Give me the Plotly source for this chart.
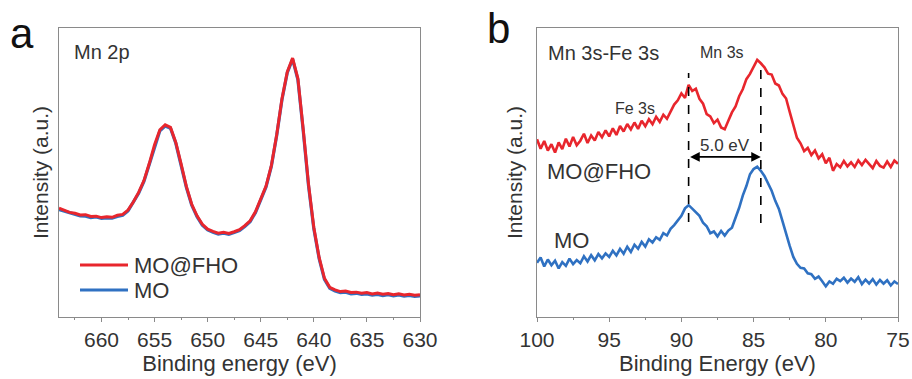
import plotly.graph_objects as go

# ---------------- Panel a: Mn 2p ----------------
energy_a = [664.0 - 0.5 * i for i in range(69)]
mn2p_mofho = [
    37.7, 37.0, 36.2, 35.9,
    35.3, 35.4, 34.8, 34.9,
    34.4, 34.7, 34.5, 35.2,
    35.5, 37.0, 39.8, 43.1,
    47.2, 53.1, 59.6, 64.8,
    66.5, 65.6, 60.4, 53.0,
    45.1, 39.0, 35.0, 32.1,
    30.4, 29.6, 29.0, 29.3,
    28.9, 29.5, 30.2, 31.6,
    33.3, 36.4, 40.6, 45.3,
    52.4, 63.0, 75.5, 84.8,
    89.6, 82.5, 65.0, 46.0,
    31.0, 20.6, 13.4, 10.3,
    9.4, 8.8, 9.0, 8.5,
    8.6, 8.2, 8.5, 8.0,
    8.3, 7.9, 8.1, 7.7,
    8.0, 7.6, 7.9, 7.5,
    7.7,
]
mn2p_mo = [
    37.2, 36.6, 36.0, 35.4,
    35.0, 34.9, 34.4, 34.6,
    34.1, 34.3, 34.2, 34.8,
    35.2, 36.7, 39.5, 42.8,
    46.9, 52.8, 59.3, 64.4,
    66.1, 65.3, 60.1, 52.7,
    44.8, 38.7, 34.7, 31.8,
    30.1, 29.3, 28.7, 29.0,
    28.6, 29.2, 29.9, 31.3,
    33.0, 36.1, 40.3, 45.0,
    52.1, 62.7, 75.2, 84.5,
    89.2, 82.1, 64.4, 45.4,
    30.5, 20.2, 13.0, 9.9,
    9.0, 8.4, 8.6, 8.0,
    8.2, 7.8, 8.0, 7.6,
    7.8, 7.4, 7.7, 7.3,
    7.6, 7.2, 7.5, 7.1,
    7.3,
]

# ---------------- Panel b: Mn 3s - Fe 3s ----------------
energy_b = [100.0 - 0.25 * i for i in range(101)]
mn3s_mofho = [
    61.5, 58.2, 60.9, 57.6,
    59.8, 56.9, 60.4, 58.1,
    61.7, 59.0, 62.3, 59.4,
    61.0, 63.4, 60.2, 62.8,
    61.1, 64.0, 62.2, 64.6,
    62.5, 65.3, 63.0, 66.1,
    64.2, 66.8, 64.9, 67.3,
    65.1, 67.9, 66.0, 68.4,
    66.7, 69.3, 67.5, 70.0,
    68.6, 71.2, 73.5, 75.0,
    77.4, 75.8, 80.3, 78.2,
    79.0, 75.5, 73.8, 70.2,
    69.4, 67.1, 68.3, 65.6,
    65.0, 67.9, 70.8, 72.9,
    76.4, 78.8, 82.3, 84.1,
    86.5, 89.0, 87.8, 86.4,
    84.2, 83.9, 80.8, 80.1,
    77.2, 75.6, 71.0, 66.8,
    62.0, 60.1, 57.4, 58.5,
    56.0, 57.6, 54.9, 56.3,
    53.2, 55.1, 50.6, 52.9,
    51.8, 54.0, 52.1, 53.5,
    51.9, 54.2, 52.6, 54.4,
    52.8, 51.5, 54.0, 52.3,
    51.7, 53.8, 51.9, 54.1,
    53.0,
]
mn3s_mo = [
    18.8, 20.6, 17.5, 19.9,
    17.9, 19.5, 16.8, 19.0,
    17.7, 20.2, 18.3, 19.7,
    18.6, 21.0, 19.2, 21.4,
    19.6, 21.8, 20.3, 22.0,
    20.8, 22.9, 21.3, 23.6,
    21.9, 24.3, 22.5, 25.0,
    23.6, 26.0, 24.4, 26.9,
    25.8, 27.6, 26.7, 29.0,
    28.2, 30.5, 31.8, 33.6,
    35.0, 37.6, 38.7, 37.5,
    36.4, 35.0, 32.6, 31.4,
    29.0, 29.6, 27.9, 29.8,
    28.2, 29.9, 30.9, 34.3,
    37.8, 42.0, 45.3, 49.4,
    51.2, 52.0, 50.6, 48.8,
    46.0, 43.7, 40.2, 37.4,
    33.2, 28.7, 24.6, 20.8,
    18.4, 17.0, 16.8, 15.1,
    14.8, 13.2, 14.0, 12.4,
    10.6, 12.3, 11.5, 13.2,
    12.4, 13.6, 11.9, 13.3,
    12.2, 13.8, 11.4, 12.9,
    11.6, 13.1, 11.2, 12.8,
    11.5, 12.7, 10.9, 12.3,
    11.4,
]

# Peak positions marked in panel b and their splitting
fe3s_peak = 89.5
mn3s_peak = 84.5
splitting_label = "5.0 eV"

xticks_a = [660, 655, 650, 645, 640, 635, 630]
xticks_b = [100, 95, 90, 85, 80, 75]

RED = "#e8262d"
BLUE = "#2f71c2"
FONT = "Arial, Liberation Sans, sans-serif"
TXT = "#333333"
AX = "#8a8a8a"

fig = go.Figure()

fig.add_trace(go.Scatter(x=energy_a, y=mn2p_mo, mode="lines", name="MO",
                         line=dict(color=BLUE, width=3.2), xaxis="x", yaxis="y",
                         showlegend=False))
fig.add_trace(go.Scatter(x=energy_a, y=mn2p_mofho, mode="lines", name="MO@FHO",
                         line=dict(color=RED, width=3), xaxis="x", yaxis="y",
                         showlegend=False))
fig.add_trace(go.Scatter(x=energy_b, y=mn3s_mofho, mode="lines", name="MO@FHO",
                         line=dict(color=RED, width=2.6), xaxis="x2", yaxis="y2",
                         showlegend=False))
fig.add_trace(go.Scatter(x=energy_b, y=mn3s_mo, mode="lines", name="MO",
                         line=dict(color=BLUE, width=2.6), xaxis="x2", yaxis="y2",
                         showlegend=False))

ydom = [1 - 317 / 379, 1 - 28 / 379]

common_x = dict(
    showline=True, linecolor=AX, linewidth=1.3, mirror=True,
    ticks="outside", ticklen=4, tickwidth=1, tickcolor=AX,
    tickfont=dict(family=FONT, size=21, color=TXT),
    showgrid=False, zeroline=False, automargin=False,
    minor=dict(ticks="outside", ticklen=2, tickcolor=AX, dtick=2.5),
)
common_y = dict(
    showline=True, linecolor=AX, linewidth=1.3, mirror=True,
    showticklabels=False, ticks="", showgrid=False, zeroline=False,
    range=[0, 100], automargin=False,
)

fig.update_layout(
    width=912, height=379,
    margin=dict(l=0, r=0, t=0, b=0),
    paper_bgcolor="white", plot_bgcolor="white",
    font=dict(family=FONT, color=TXT),
    xaxis=dict(domain=[59 / 912, 420 / 912], range=[664, 630],
               tickvals=xticks_a, anchor="y",
               title=dict(text="Binding energy (eV)", standoff=2,
                          font=dict(family=FONT, size=22, color=TXT)),
               **common_x),
    yaxis=dict(domain=ydom, anchor="x",
               title=dict(text="Intensity (a.u.)", standoff=3,
                          font=dict(family=FONT, size=21, color=TXT)),
               **common_y),
    xaxis2=dict(domain=[537 / 912, 898 / 912], range=[100, 75],
                tickvals=xticks_b, anchor="y2",
                title=dict(text="Binding Energy (eV)", standoff=2,
                           font=dict(family=FONT, size=22, color=TXT)),
                **common_x),
    yaxis2=dict(domain=ydom, anchor="x2",
                title=dict(text="Intensity (a.u.)", standoff=7,
                           font=dict(family=FONT, size=21, color=TXT)),
                **common_y),
)

def px(xp):
    return xp / 912

def py(yp):
    return 1 - yp / 379

def label(xp, yp, text, size, anchor="center", color=TXT):
    fig.add_annotation(xref="paper", yref="paper", x=px(xp), y=py(yp), text=text,
                       showarrow=False, xanchor=anchor, yanchor="middle",
                       font=dict(family=FONT, size=size, color=color))

# Legend of panel a
for ypix, col, name in [(265, RED, "MO@FHO"), (290, BLUE, "MO")]:
    fig.add_shape(type="line", xref="paper", yref="paper",
                  x0=px(80), x1=px(128), y0=py(ypix), y1=py(ypix),
                  line=dict(color=col, width=3))
    label(132, ypix, name, 22, anchor="left")

# Panel labels and spectrum names
label(22, 33, "a", 42, color="#111")
label(498, 28, "b", 42, color="#111")
label(72, 52, "Mn 2p", 20, anchor="left")
label(546, 53, "Mn 3s-Fe 3s", 20, anchor="left")
label(722, 53, "Mn 3s", 16)
label(635, 108, "Fe 3s", 16)
label(545, 172, "MO@FHO", 22, anchor="left")
label(552, 240, "MO", 22, anchor="left")

# Dashed peak markers and the splitting arrow
fig.add_shape(type="line", xref="x2", yref="y2", x0=fe3s_peak, x1=fe3s_peak,
              y0=32.9, y1=84.4, line=dict(color="black", width=1.6, dash="dash"))
fig.add_shape(type="line", xref="x2", yref="y2", x0=mn3s_peak, x1=mn3s_peak,
              y0=32.5, y1=87.9, line=dict(color="black", width=1.6, dash="dash"))
fig.add_annotation(xref="x2", yref="y2", axref="x2", ayref="y2",
                   x=mn3s_peak, y=55.4, ax=fe3s_peak, ay=55.4, text="",
                   showarrow=True, arrowhead=2, startarrowhead=2, arrowside="end+start",
                   arrowsize=1.2, arrowwidth=1.6, arrowcolor="black")
fig.add_annotation(xref="x2", yref="y2", x=(fe3s_peak + mn3s_peak) / 2, y=59.5,
                   text=splitting_label, showarrow=False, xanchor="center",
                   font=dict(family=FONT, size=17, color=TXT))

fig.write_html("out.html")
